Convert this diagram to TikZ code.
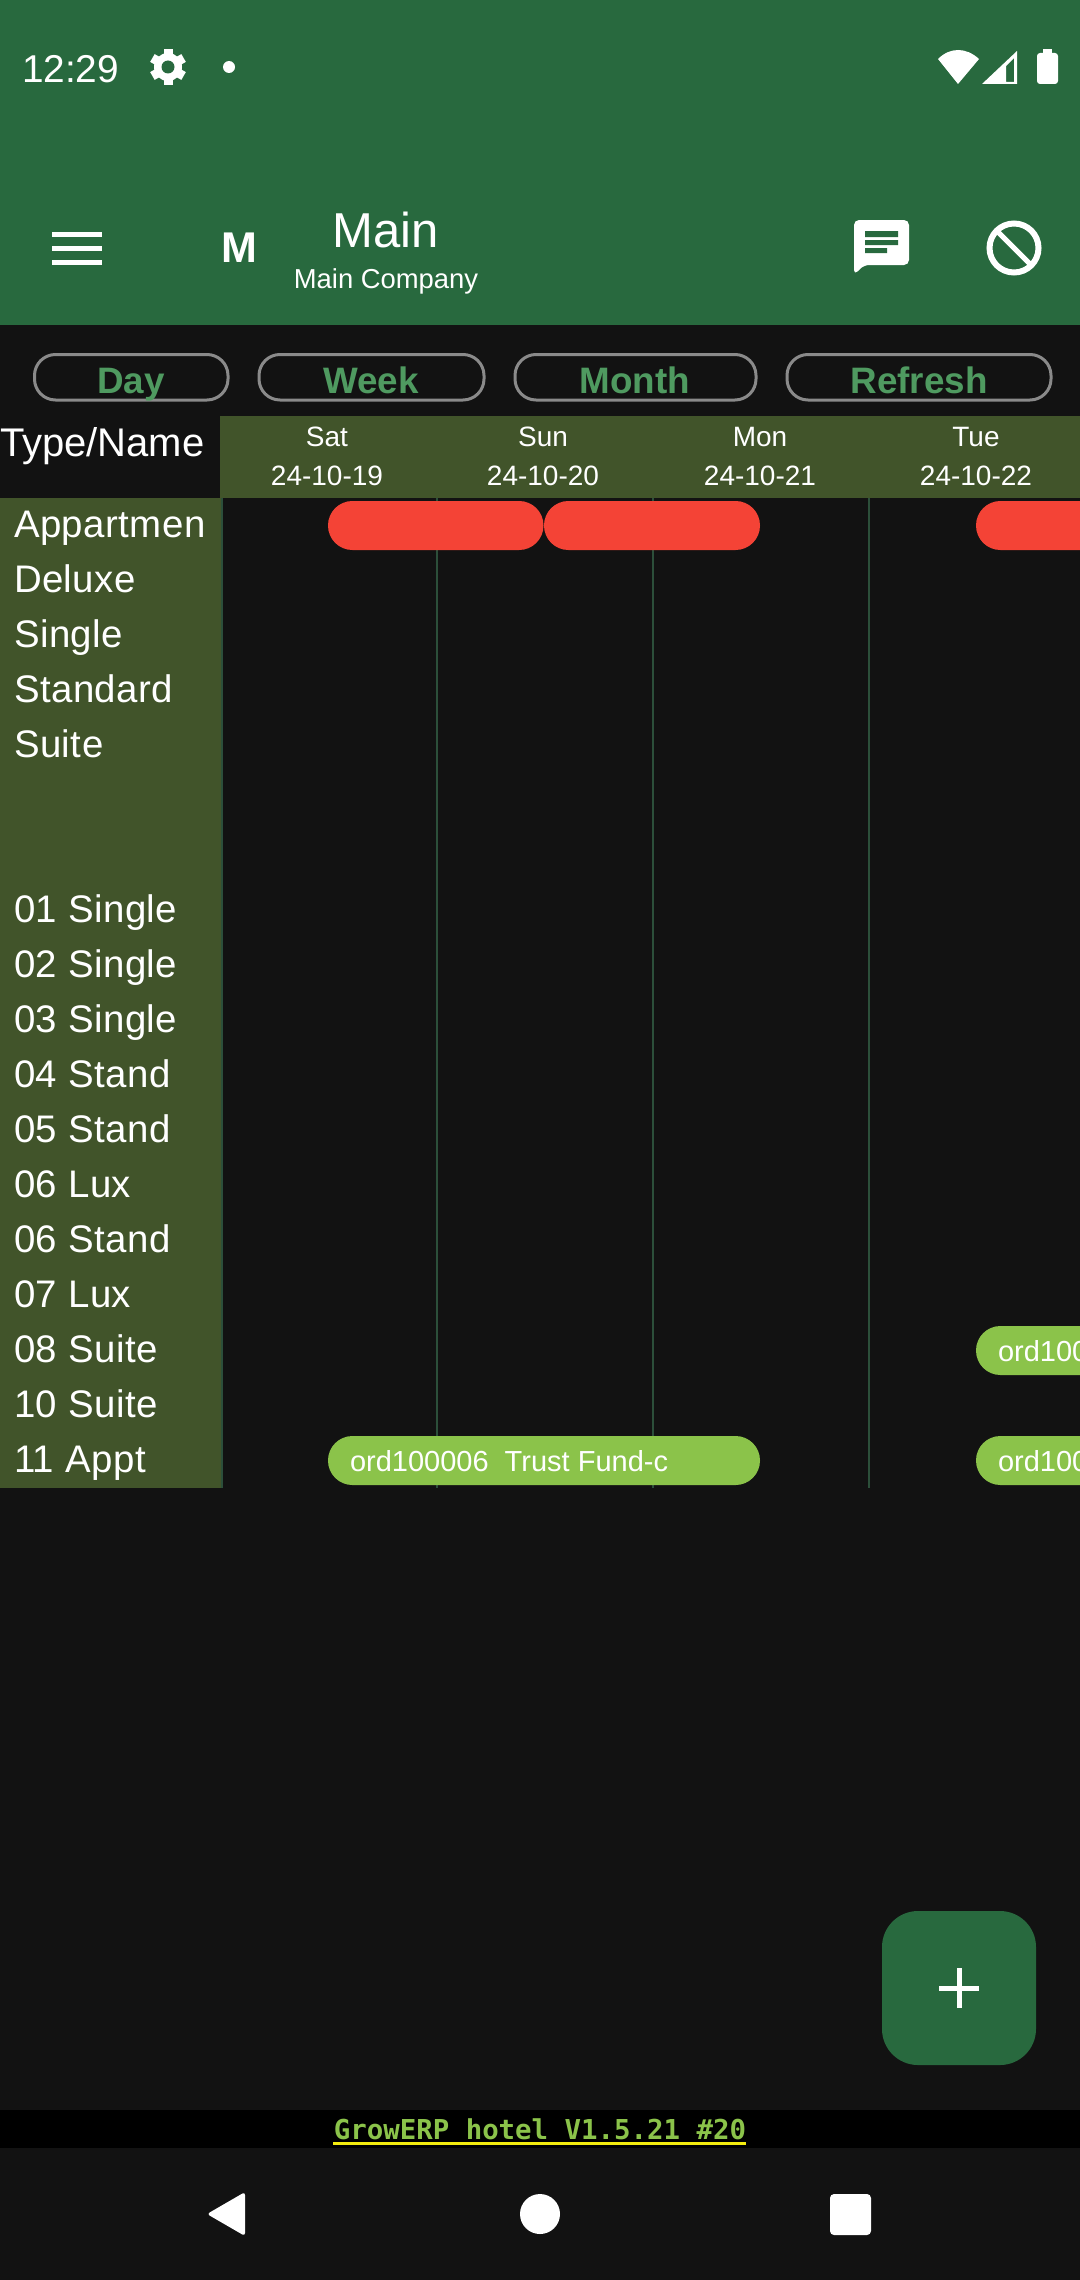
\documentclass[tikz,border=0pt]{standalone}
\usepackage{fontspec}
\setmainfont{Liberation Sans}
\newfontfamily\medfont{Liberation Sans Bold}
\newfontfamily\rowfont[LetterSpace=1.2]{Liberation Sans}
\newfontfamily\verfont{DejaVu Sans Mono Bold}
\definecolor{bgdark}{HTML}{121212}
\definecolor{hdrgreen}{HTML}{28693E}
\definecolor{olive}{HTML}{41542A}
\definecolor{barred}{HTML}{F44336}
\definecolor{bargreen}{HTML}{8BC34A}
\definecolor{btntext}{HTML}{4F9A60}
\definecolor{btnline}{HTML}{8A8A8A}
\definecolor{gridline}{HTML}{2C4F3A}
\newcommand{\pxs}[1]{\fontsize{#1}{#1}\selectfont}
\tikzset{
  x=0.5pt,y=-0.5pt,
  lab/.style={inner sep=0pt,outer sep=0pt,anchor=base,text=white},
  rowlab/.style={lab,anchor=base west,font=\rowfont\pxs{19.2pt}},
  daylab/.style={lab,font=\pxs{14pt}},
  btn/.style={draw=btnline,line width=1.5pt,rounded corners=10.5pt,fill=bgdark},
  btnlab/.style={lab,text=btntext,font=\medfont\pxs{18.4pt}},
  barlab/.style={lab,anchor=base west,font=\pxs{14.5pt}},
  gridln/.style={draw=gridline,line width=1pt},
  ic/.style={fill=white,draw=none}
}
\begin{document}
\begin{tikzpicture}
\useasboundingbox (0,0) rectangle (1080,2280);
\fill[bgdark] (0,0) rectangle (1080,2280);
% header
\fill[hdrgreen] (0,0) rectangle (1080,325);
\node[lab,anchor=base west,font=\pxs{19.4pt}] (clock) at (22,83) {12:29};
% gear
\foreach \a in {0,60,...,300}{\draw[white,line width=4.5pt] (168,67) -- ++(\a+30:18);}
\fill[white] (168,67) circle (14);
\fill[hdrgreen] (168,67) circle (6.5);
\fill[ic] (229,67) circle (6);
% wifi
\fill[ic] (958,84) -- (938,59) .. controls (950,47) and (966,47) .. (979,59) -- cycle;
% signal
\fill[ic,even odd rule] (982,84) -- (1017,51) -- (1017,84) -- cycle (1006,66) -- (1006,82) -- (1014,82) -- (1014,58) -- cycle;
% battery
\fill[ic,rounded corners=1.5pt] (1037,53) rectangle (1058,84);
\fill[ic] (1043,49) rectangle (1052,55);
% app bar
\foreach \yy in {234.5,248,262}{\fill[ic] (52,\yy-2.5) rectangle (102,\yy+2.5);}
\node[lab,font=\medfont\pxs{21.5pt}] (avatar) at (239,262) {M};
\node[lab,font=\pxs{24.5pt}] (title) at (386,247) {Main};
\node[lab,font=\pxs{13.7pt}] (subtitle) at (386,288) {Main Company};
% chat icon
\fill[ic,rounded corners=2.5pt] (854,275) -- (854,220) -- (909,220) -- (909,265) -- (864,265) -- cycle;
\fill[hdrgreen] (865,231) rectangle (898,237) (865,240) rectangle (898,245) (865,248) rectangle (887,253);
% block icon
\draw[white,line width=3pt] (1014,248) circle (24.5);
\draw[white,line width=2.6pt] (997,231) -- (1031,265);
% buttons
\draw[btn] (34.5,354.5) rectangle (228,400);
\draw[btn] (259,354.5) rectangle (484,400);
\draw[btn] (515,354.5) rectangle (756,400);
\draw[btn] (787,354.5) rectangle (1051,400);
\node[btnlab] (bday) at (131,393) {Day};
\node[btnlab] (bweek) at (371,393) {Week};
\node[btnlab] (bmonth) at (635,393) {Month};
\node[btnlab] (brefresh) at (919,393) {Refresh};
% date header
\fill[olive] (220,416) rectangle (1080,498);
\node[lab,anchor=base west,font=\pxs{20pt}] (typename) at (0,456) {Type/Name};
\node[daylab] (d1) at (327,446) {Sat};
\node[daylab] (d2) at (543,446) {Sun};
\node[daylab] (d3) at (760,446) {Mon};
\node[daylab] (d4) at (976,446) {Tue};
\node[daylab] (e1) at (327,485) {24-10-19};
\node[daylab] (e2) at (543,485) {24-10-20};
\node[daylab] (e3) at (760,485) {24-10-21};
\node[daylab] (e4) at (976,485) {24-10-22};
% sidebar
\fill[olive] (0,498) rectangle (221,1488);
\fill[gridline] (221,498) rectangle (223,1488);
% grid
\draw[gridln] (436.5,498) -- (436.5,1488);
\draw[gridln] (653,498) -- (653,1488);
\draw[gridln] (869,498) -- (869,1488);
% rows
\node[rowlab] (r1) at (14,537.5) {Appartmen};
\node[rowlab] (r2) at (14,592.5) {Deluxe};
\node[rowlab] (r3) at (14,647.5) {Single};
\node[rowlab] (r4) at (14,702.5) {Standard};
\node[rowlab] (r5) at (14,757.5) {Suite};
\node[rowlab] (r6) at (14,922.5) {01 Single};
\node[rowlab] (r7) at (14,977.5) {02 Single};
\node[rowlab] (r8) at (14,1032.5) {03 Single};
\node[rowlab] (r9) at (14,1087.5) {04 Stand};
\node[rowlab] (r10) at (14,1142.5) {05 Stand};
\node[rowlab] (r11) at (14,1197.5) {06 Lux};
\node[rowlab] (r12) at (14,1252.5) {06 Stand};
\node[rowlab] (r13) at (14,1307.5) {07 Lux};
\node[rowlab] (r14) at (14,1362.5) {08 Suite};
\node[rowlab] (r15) at (14,1417.5) {10 Suite};
\node[rowlab] (r16) at (14,1472.5) {11 Appt};
% bars
\begin{scope}
\clip (0,0) rectangle (1080,2280);
\fill[barred,rounded corners=12.2pt] (328,501) rectangle (543.5,550);
\fill[barred,rounded corners=12.2pt] (544,501) rectangle (760,550);
\fill[barred,rounded corners=12.2pt] (976,501) rectangle (1192,550);
\fill[bargreen,rounded corners=12.2pt] (328,1436) rectangle (760,1485);
\fill[bargreen,rounded corners=12.2pt] (976,1326) rectangle (1192,1375);
\fill[bargreen,rounded corners=12.2pt] (976,1436) rectangle (1192,1485);
\node[barlab] (b1) at (350,1471) {ord100006\ \ Trust Fund-c};
\node[barlab] (b2) at (998,1361) {ord100006};
\node[barlab] (b3) at (998,1471) {ord100006};
\end{scope}
% fab
\fill[hdrgreen,rounded corners=18pt] (882,1911) rectangle (1036,2065);
\fill[ic] (939,1985.5) rectangle (979,1990.5);
\fill[ic] (956.5,1968) rectangle (961.5,2008);
% version bar
\fill[black] (0,2110) rectangle (1080,2148);
\node[lab,text=bargreen,font=\verfont\pxs{13.7pt}] (ver) at (540,2139) {GrowERP hotel V1.5.21 \#20};
\fill[yellow!90!bargreen] (333,2142) rectangle (746,2144.5);
% nav
\fill[ic,rounded corners=1.5pt] (245,2192) -- (245,2236) -- (207,2214) -- cycle;
\fill[ic] (540,2214) circle (20);
\fill[ic,rounded corners=2pt] (830,2194) rectangle (871,2235);
\end{tikzpicture}
\end{document}
